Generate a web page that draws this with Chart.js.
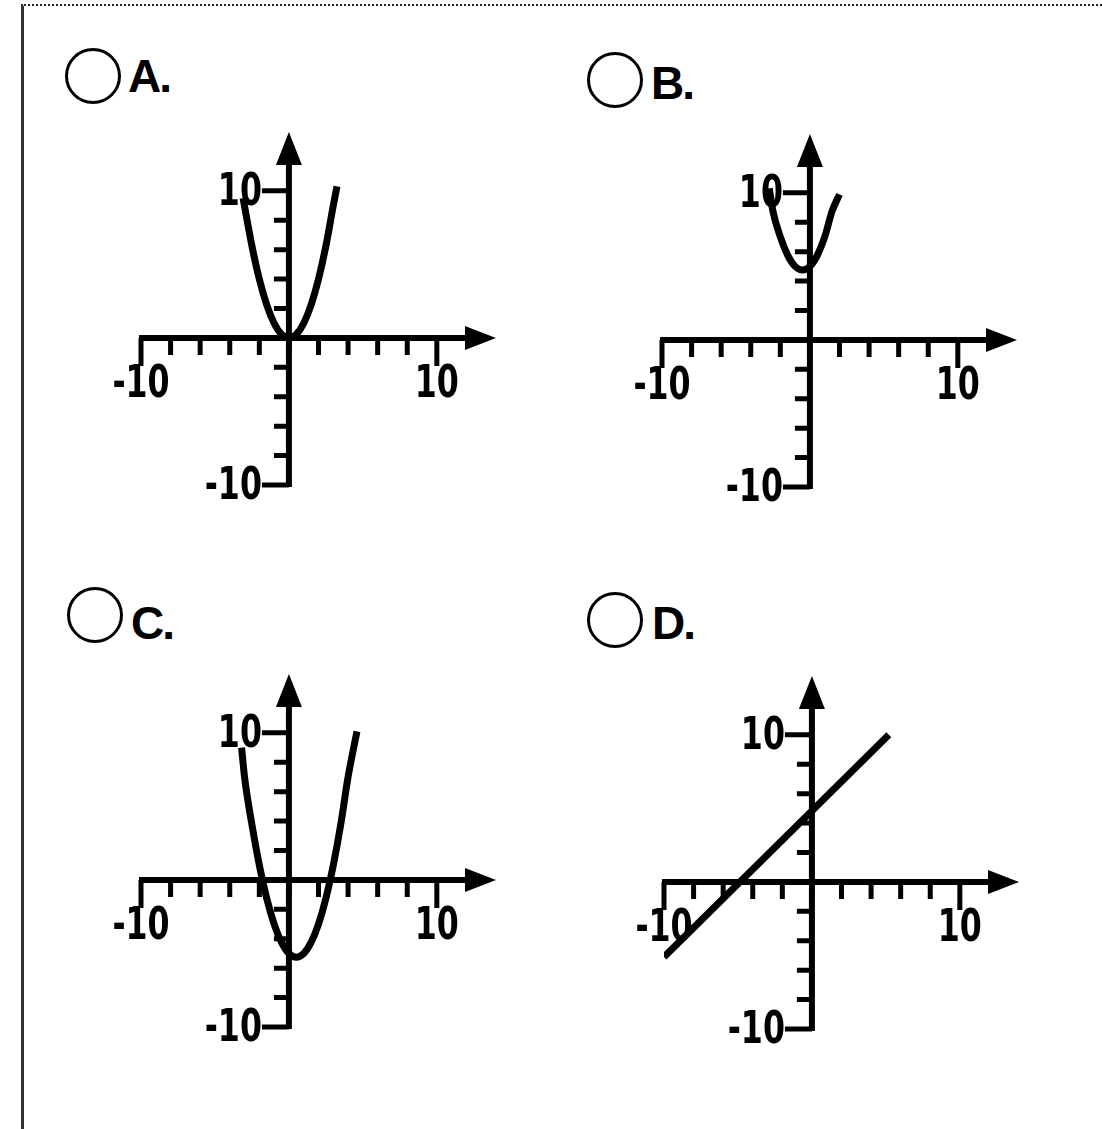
<!DOCTYPE html>
<html>
<head>
<meta charset="utf-8">
<script src="https://cdn.jsdelivr.net/npm/chart.js@4.4.1/dist/chart.umd.min.js"></script>
<style>
  body { margin: 0; background: #fff; width: 1102px; height: 1129px; position: relative; overflow: hidden; }
  .frame { position: absolute; left: 21px; top: 4px; right: -4px; bottom: -10px; border-top: 2px dotted #222; border-left: 3px solid #333; }
  .radio { position: absolute; width: 50px; height: 50px; border: 3px solid #000; border-radius: 50%; }
  .letter { position: absolute; font: bold 46px/48px "Liberation Sans", Arial, sans-serif; color: #000; letter-spacing: -2px; }
  canvas { position: absolute; }
</style>
</head>
<body>
<div class="frame"></div>

<div class="radio" style="left:65px;top:48px"></div><div class="letter" style="left:128px;top:52px">A.</div>
<div class="radio" style="left:587px;top:52px"></div><div class="letter" style="left:651px;top:59px">B.</div>
<div class="radio" style="left:67px;top:587px"></div><div class="letter" style="left:131px;top:599px">C.</div>
<div class="radio" style="left:587px;top:592px"></div><div class="letter" style="left:652px;top:599px">D.</div>

<canvas id="graph-A" width="480" height="440" style="left:40px;top:100px"></canvas>
<canvas id="graph-B" width="480" height="440" style="left:561px;top:102px"></canvas>
<canvas id="graph-C" width="480" height="440" style="left:40px;top:642px"></canvas>
<canvas id="graph-D" width="480" height="440" style="left:563px;top:644px"></canvas>

<script>
// tick marks every 2 units, only the ends get a label
const tickValues = [-10, -8, -6, -4, -2, 0, 2, 4, 6, 8, 10];
const labelTicks = [-10, 10];
const labelText = ["-10", "10"];

// curves
const aX = [-3.1, -2.5, -2, -1.5, -1, -0.5, 0, 0.5, 1, 1.5, 2, 2.5, 3, 3.25];
const aY = [9.5, 6.25, 4, 2.25, 1, 0.25, 0, 0.25, 1, 2.25, 4, 6.25, 9, 10.3];

const bX = [-2.75, -2.5, -2, -1.5, -1, -0.5, 0, 0.5, 1, 1.5, 2];
const bY = [10.3, 8.75, 7, 5.75, 5, 4.75, 5, 5.75, 7, 8.75, 9.9];

const cX = [-3.2, -3, -2.5, -2, -1.5, -1, -0.5, 0, 0.5, 1, 1.5, 2, 2.5, 3, 3.5, 4, 4.6];
const cY = [9.0, 7, 3.75, 1, -1.25, -3, -4.25, -5, -5.25, -5, -4.25, -3, -1.25, 1, 3.75, 7, 10.1];

const dX = [-10, 5.2];
const dY = [-5.1, 10];

const labelFont = 'bold 44px "DejaVu Sans Condensed", "DejaVu Sans", sans-serif';

// squeezed text, the labels in the picture are narrow
function narrowText(ctx, text, x, y, align) {
  ctx.save();
  ctx.translate(x, y);
  ctx.scale(0.8, 1);
  ctx.textAlign = align;
  ctx.fillText(text, 0, 0);
  ctx.restore();
}

// axes through the origin, with arrows, drawn from the chart's own scales
const crossAxes = {
  id: "crossAxes",
  beforeDatasetsDraw(chart) {
    const { ctx, scales: { x, y } } = chart;
    const ox = x.getPixelForValue(0);
    const oy = y.getPixelForValue(0);
    const xl = x.getPixelForValue(x.min);
    const xr = x.getPixelForValue(x.max);
    const yb = y.getPixelForValue(y.min);
    const yt = y.getPixelForValue(y.max);

    ctx.save();
    ctx.strokeStyle = "#000";
    ctx.fillStyle = "#000";
    ctx.lineWidth = 6;
    ctx.beginPath();
    ctx.moveTo(xl - 2, oy);
    ctx.lineTo(xr - 20, oy);
    ctx.moveTo(ox, yb + 2);
    ctx.lineTo(ox, yt + 20);
    ctx.stroke();

    // arrow heads
    ctx.beginPath();
    ctx.moveTo(xr, oy);
    ctx.lineTo(xr - 31, oy - 12);
    ctx.lineTo(xr - 31, oy + 12);
    ctx.closePath();
    ctx.moveTo(ox, yt);
    ctx.lineTo(ox - 13, yt + 33);
    ctx.lineTo(ox + 13, yt + 33);
    ctx.closePath();
    ctx.fill();

    // ticks: down from the x axis, left from the y axis
    ctx.lineWidth = 5;
    tickValues.forEach(v => {
      const long = labelTicks.includes(v);
      const px = x.getPixelForValue(v);
      const py = y.getPixelForValue(v);
      ctx.beginPath();
      ctx.moveTo(px, oy);
      ctx.lineTo(px, oy + (long ? 28 : 17));
      ctx.moveTo(ox, py);
      ctx.lineTo(ox - (long ? 27 : 15), py);
      ctx.stroke();
    });

    ctx.font = labelFont;
    ctx.textBaseline = "middle";
    labelTicks.forEach((v, i) => {
      narrowText(ctx, labelText[i], x.getPixelForValue(v), oy + 48, "center");
      narrowText(ctx, labelText[i], ox - 27, y.getPixelForValue(v) + 3, "right");
    });
    ctx.restore();
  }
};

function makeGraph(id, xs, ys) {
  const ctx = document.getElementById(id).getContext("2d");
  return new Chart(ctx, {
    type: "scatter",
    data: {
      datasets: [
        {
          data: xs.map((v, i) => ({ x: v, y: ys[i] })),
          showLine: true,
          borderColor: "#000",
          borderWidth: 7,
          pointRadius: 0,
          cubicInterpolationMode: "monotone",
        },
      ],
    },
    options: {
      responsive: false,
      animation: false,
      events: [],
      layout: { padding: { left: 101, right: 24, top: 32, bottom: 55 } },
      plugins: { legend: { display: false }, tooltip: { enabled: false } },
      scales: {
        x: { type: "linear", min: -10, max: 14, display: false },
        y: { type: "linear", min: -10, max: 14, display: false },
      },
    },
    plugins: [crossAxes],
  });
}

makeGraph("graph-A", aX, aY);
makeGraph("graph-B", bX, bY);
makeGraph("graph-C", cX, cY);
makeGraph("graph-D", dX, dY);
</script>
</body>
</html>
